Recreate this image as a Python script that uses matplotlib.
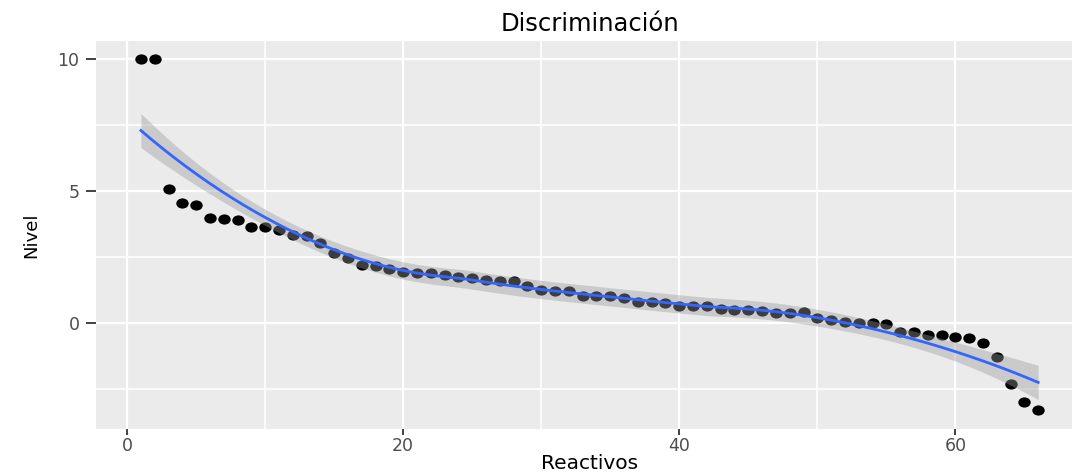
import numpy as np
import matplotlib.pyplot as plt
from matplotlib.path import Path
from matplotlib.transforms import Affine2D

# item number (Reactivos) and level (Nivel)
reactivos = np.arange(1, 67)
nivel = np.array([
    10.0, 10.0, 5.07, 4.53, 4.47, 3.96, 3.93, 3.88, 3.62, 3.62,
    3.52, 3.31, 3.27, 3.02, 2.66, 2.45, 2.20, 2.15, 2.03, 1.94,
    1.88, 1.88, 1.82, 1.73, 1.70, 1.63, 1.57, 1.57, 1.38, 1.25,
    1.21, 1.21, 1.02, 1.00, 1.00, 0.93, 0.77, 0.77, 0.75, 0.64,
    0.65, 0.65, 0.53, 0.50, 0.47, 0.46, 0.39, 0.39, 0.41, 0.20,
    0.11, 0.05, 0.01, -0.01, -0.03, -0.33, -0.35, -0.45, -0.45, -0.52,
    -0.56, -0.77, -1.31, -2.32, -2.98, -3.30,
])

x_ticks = [0, 20, 40, 60]
y_ticks = [0, 5, 10]


def loess_rows(x, x0s, span=0.75):
    # local quadratic fit with tricube weights, one row of the smoother per x0
    n = len(x)
    q = int(np.floor(n * span))
    rows = []
    for x0 in x0s:
        d = np.abs(x - x0)
        h = np.sort(d)[q - 1]
        w = np.clip(1 - (d / h) ** 3, 0, None) ** 3
        X = np.column_stack([np.ones(n), x - x0, (x - x0) ** 2])
        XtW = X.T * w
        rows.append(np.linalg.solve(XtW @ X, XtW)[0])
    return np.array(rows)


x = reactivos.astype(float)
xs = np.linspace(x.min(), x.max(), 80)
L = loess_rows(x, x)
Ls = loess_rows(x, xs)
fit = Ls @ nivel
M = np.eye(len(x)) - L
MM = M.T @ M
one_delta = np.trace(MM)
two_delta = np.trace(MM @ MM)
sigma = np.sqrt(np.sum((nivel - L @ nivel) ** 2) / one_delta)
se = sigma * np.sqrt(np.sum(Ls ** 2, axis=1))
df = one_delta ** 2 / two_delta
z = 1.959964
tq = z + (z ** 3 + z) / (4 * df) + (5 * z ** 5 + 16 * z ** 3 + 3 * z) / (96 * df ** 2)

# the reference is stretched sideways, so the dots are slightly wide
dot = Path.unit_circle().transformed(Affine2D().scale(1.0, 0.82))

fig = plt.figure(figsize=(10.72, 4.75), dpi=100)
ax = fig.add_axes([0.0896, 0.0968, 0.9207, 0.8169])
ax.set_facecolor("#EBEBEB")
for s in ax.spines.values():
    s.set_visible(False)

ax.scatter(reactivos, nivel, s=80, marker=dot, color="black", zorder=3, linewidths=0)
ax.fill_between(xs, fit - tq * se, fit + tq * se, color="#999999", alpha=0.4,
                linewidth=0, zorder=4)
ax.plot(xs, fit, color="#3366FF", lw=2.0, zorder=5)

ax.set_xlim(-2.25, 69.25)
ax.set_ylim(-4.02, 10.67)
ax.set_xticks(x_ticks)
ax.set_yticks(y_ticks)
ax.set_xticks([10, 30, 50], minor=True)
ax.set_yticks([-2.5, 2.5, 7.5], minor=True)
ax.grid(True, which="major", color="white", lw=1.6)
ax.grid(True, which="minor", color="white", lw=1.1)
ax.set_axisbelow(True)
ax.tick_params(which="major", axis="x", length=4, width=1.3, color="#333333",
               labelsize=12.5, labelcolor="#4D4D4D", pad=2)
ax.tick_params(which="major", axis="y", length=7, width=1.3, color="#333333",
               labelsize=12.5, labelcolor="#4D4D4D", pad=5)
ax.tick_params(which="minor", length=0)

ax.set_title("Discriminación", fontsize=17.5, pad=7)
ax.set_xlabel("Reactivos", fontsize=14.5, labelpad=-1)
ax.set_ylabel("Nivel", fontsize=13, labelpad=12)

fig.savefig("out.png", dpi=100)
